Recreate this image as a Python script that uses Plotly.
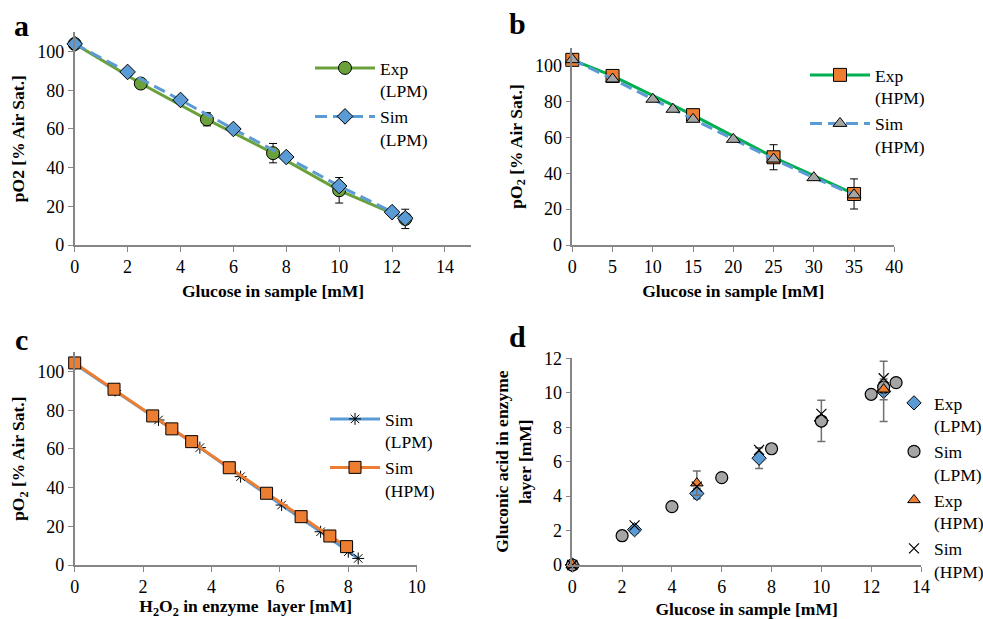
import plotly.graph_objects as go

# ---------------- data ----------------
# Panel a
a_exp_x = [0, 2.5, 5, 7.5, 10, 12.5]
a_exp_y = [104, 83.5, 65, 47.5, 28.3, 13.5]
a_exp_err = [1, 1, 3.4, 5, 6.6, 5]
a_sim_x = [0, 2, 4, 6, 8, 10, 12, 12.5]
a_sim_y = [104, 89.5, 75, 60, 45.5, 30.5, 17, 13.8]

# Panel b
b_exp_x = [0, 5, 15, 25, 35]
b_exp_y = [103.4, 94.4, 72.5, 49, 28.5]
b_exp_err = [1, 1.5, 2, 7, 8.4]
b_sim_x = [0, 5, 10, 12.5, 15, 20, 25, 30, 35]
b_sim_y = [103.5, 92.7, 81.4, 75.8, 70.2, 59, 48, 37.6, 28]

# Panel c
c_lpm_x = [0, 1.18, 2.45, 3.66, 4.85, 6.05, 7.19, 8.0, 8.29]
c_lpm_y = [104, 90.2, 75, 60.7, 45.7, 31, 17.2, 6.9, 3.4]
c_hpm_x = [0, 1.15, 2.28, 2.84, 3.42, 4.52, 5.61, 6.62, 7.46, 7.95]
c_hpm_y = [104.5, 90.9, 77.1, 70.4, 63.8, 50.3, 37.1, 25, 15, 9.5]

# Panel d
d_exp_lpm_x = [0, 2.5, 5, 7.5, 10, 12.5]
d_exp_lpm_y = [0, 2.05, 4.15, 6.2, 8.37, 10.08]
d_exp_lpm_err = [0, 0.2, 0.3, 0.6, 1.2, 1.75]
d_sim_lpm_x = [0, 2, 4, 6, 8, 10, 12, 12.5, 13]
d_sim_lpm_y = [0, 1.7, 3.39, 5.07, 6.75, 8.36, 9.91, 10.32, 10.59]
d_exp_hpm_x = [0, 5, 12.5]
d_exp_hpm_y = [0, 4.75, 10.2]
d_exp_hpm_err = [0, 0.7, 0.6]
d_sim_hpm_x = [0, 2.5, 5, 7.5, 10, 12.5]
d_sim_hpm_y = [0, 2.3, 4.55, 6.68, 8.77, 10.84]

# ---------------- styling ----------------
W, H = 983, 619
FONT = "Liberation Serif, Times New Roman, serif"
GREEN_A = "#6aa13b"
GREEN_B = "#00b050"
BLUE = "#5b9bd5"
ORANGE = "#ed7d31"
GRAY = "#a5a5a5"
AXC = "#868686"


def dx(px0, px1):
    return [px0 / W, px1 / W]


def dy(py_bottom, py_top):
    return [1 - py_bottom / H, 1 - py_top / H]


fig = go.Figure()

# Panel a
fig.add_trace(go.Scatter(
    x=a_exp_x, y=a_exp_y, name="Exp<br>(LPM)", mode="lines+markers",
    line=dict(color=GREEN_A, width=3),
    marker=dict(symbol="circle", size=13, color=GREEN_A, line=dict(color="black", width=1)),
    error_y=dict(type="data", array=a_exp_err, color="black", thickness=1, width=4),
    xaxis="x", yaxis="y", legend="legend"))
fig.add_trace(go.Scatter(
    x=a_sim_x, y=a_sim_y, name="Sim<br>(LPM)", mode="lines+markers",
    line=dict(color=BLUE, width=3, dash="12px,6px"),
    marker=dict(symbol="diamond", size=12, color=BLUE, line=dict(color="black", width=1)),
    xaxis="x", yaxis="y", legend="legend"))

# Panel b
fig.add_trace(go.Scatter(
    x=b_exp_x, y=b_exp_y, name="Exp<br>(HPM)", mode="lines+markers",
    line=dict(color=GREEN_B, width=3),
    marker=dict(symbol="square", size=13, color=ORANGE, line=dict(color="black", width=1)),
    error_y=dict(type="data", array=b_exp_err, color="black", thickness=1, width=4),
    xaxis="x2", yaxis="y2", legend="legend2"))
fig.add_trace(go.Scatter(
    x=b_sim_x, y=b_sim_y, name="Sim<br>(HPM)", mode="lines+markers",
    line=dict(color=BLUE, width=3, dash="12px,6px"),
    marker=dict(symbol="triangle-up", size=12, color=GRAY, line=dict(color="black", width=1)),
    xaxis="x2", yaxis="y2", legend="legend2"))

# Panel c
fig.add_trace(go.Scatter(
    x=c_lpm_x, y=c_lpm_y, name="Sim<br>(LPM)", mode="lines+markers",
    line=dict(color=BLUE, width=3),
    marker=dict(symbol="asterisk-open", size=10, color="black", line=dict(color="black", width=1)),
    xaxis="x3", yaxis="y3", legend="legend3"))
fig.add_trace(go.Scatter(
    x=c_hpm_x, y=c_hpm_y, name="Sim<br>(HPM)", mode="lines+markers",
    line=dict(color=ORANGE, width=3),
    marker=dict(symbol="square", size=12, color=ORANGE, line=dict(color="black", width=1)),
    xaxis="x3", yaxis="y3", legend="legend3"))

# Panel d
fig.add_trace(go.Scatter(
    x=d_exp_lpm_x, y=d_exp_lpm_y, name="Exp<br>(LPM)", mode="markers",
    marker=dict(symbol="diamond", size=11, color=BLUE, line=dict(color="black", width=1)),
    error_y=dict(type="data", array=d_exp_lpm_err, color="#707070", thickness=1.5, width=4),
    xaxis="x4", yaxis="y4", legend="legend4"))
fig.add_trace(go.Scatter(
    x=d_sim_lpm_x, y=d_sim_lpm_y, name="Sim<br>(LPM)", mode="markers",
    marker=dict(symbol="circle", size=12, color=GRAY, line=dict(color="black", width=1.2)),
    xaxis="x4", yaxis="y4", legend="legend4"))
fig.add_trace(go.Scatter(
    x=d_exp_hpm_x, y=d_exp_hpm_y, name="Exp<br>(HPM)", mode="markers",
    marker=dict(symbol="triangle-up", size=11, color=ORANGE, line=dict(color="black", width=1)),
    error_y=dict(type="data", array=d_exp_hpm_err, color="#707070", thickness=1.5, width=4),
    xaxis="x4", yaxis="y4", legend="legend4"))
fig.add_trace(go.Scatter(
    x=d_sim_hpm_x, y=d_sim_hpm_y, name="Sim<br>(HPM)", mode="markers",
    marker=dict(symbol="x-thin-open", size=10, color="black", line=dict(color="black", width=1.2)),
    xaxis="x4", yaxis="y4", legend="legend4"))

fig.update_traces(cliponaxis=False)

tickfont = dict(family=FONT, size=18, color="black")
titlefont = dict(family=FONT, size=17.5, color="black")


def xax(domain, rng, dtick, anchor, title):
    return dict(domain=domain, range=rng, dtick=dtick, anchor=anchor, automargin=False,
                showgrid=False, zeroline=False, showline=True, linecolor=AXC, linewidth=1.5,
                ticks="outside", tickcolor=AXC, ticklen=5, tickwidth=1.2,
                tickfont=tickfont, title=dict(text=title, font=titlefont, standoff=8))


def yax(domain, rng, dtick, anchor, title, tickvals=None):
    d = dict(domain=domain, range=rng, anchor=anchor, automargin=False,
             showgrid=False, zeroline=False, showline=True, linecolor=AXC, linewidth=1.5,
             ticks="outside", tickcolor=AXC, ticklen=5, tickwidth=1.2,
             tickfont=tickfont, title=dict(text=title, font=titlefont, standoff=8))
    if tickvals is not None:
        d["tickvals"] = tickvals
        d["tickmode"] = "array"
    else:
        d["dtick"] = dtick
    return d


yt100 = [0, 20, 40, 60, 80, 100]

legend_common = dict(font=dict(family=FONT, size=17.5, color="black"), bgcolor="rgba(0,0,0,0)",
                     xanchor="left", yanchor="top", valign="top", tracegroupgap=4)

fig.update_layout(
    width=W, height=H, margin=dict(l=0, r=0, t=0, b=0, pad=0, autoexpand=False),
    paper_bgcolor="white", plot_bgcolor="white",
    font=dict(family=FONT, color="black"),
    xaxis=xax(dx(74.7, 471.4), [0, 15], 2, "y", "<b>Glucose in sample [mM]</b>"),
    yaxis=yax(dy(245, 32.3), [0, 110], 20, "x", "<b>pO2 [% Air Sat.]</b>", yt100),
    xaxis2=xax(dx(572.3, 894.3), [0, 40], 5, "y2", "<b>Glucose in sample [mM]</b>"),
    yaxis2=yax(dy(245, 48), [0, 110], 20, "x2", "<b>pO<sub>2</sub> [% Air Sat.]</b>", yt100),
    xaxis3=xax(dx(74.7, 416.7), [0, 10], 2, "y3", "<b>H<sub>2</sub>O<sub>2</sub> in enzyme  layer [mM]</b>"),
    yaxis3=yax(dy(565, 352.3), [0, 110], 20, "x3", "<b>pO<sub>2</sub> [% Air Sat.]</b>", yt100),
    xaxis4=xax(dx(572.3, 921), [0, 14], 2, "y4", "<b>Glucose in sample [mM]</b>"),
    yaxis4=yax(dy(565, 358.3), [0, 12], 2, "x4", "<b>Gluconic acid in enzyme<br>layer [mM]</b>"),
    legend=dict(x=310 / W, y=1 - 50 / H, itemwidth=60, **legend_common),
    legend2=dict(x=805 / W, y=1 - 57 / H, itemwidth=60, **legend_common),
    legend3=dict(x=325 / W, y=1 - 401 / H, itemwidth=50, **legend_common),
    legend4=dict(x=894 / W, y=1 - 385 / H, itemwidth=30, **legend_common),
    showlegend=True,
)

# panel letters
for letter, px, py in [("a", 21, 25), ("b", 517, 23), ("c", 21, 339), ("d", 517, 336)]:
    fig.add_annotation(text=f"<b>{letter}</b>", x=px / W, y=1 - py / H, xref="paper", yref="paper",
                       showarrow=False, font=dict(family=FONT, size=30, color="black"),
                       xanchor="center", yanchor="middle")

fig.write_html("out.html", config={"displayModeBar": False},
               post_script="document.body.style.margin='0';")
